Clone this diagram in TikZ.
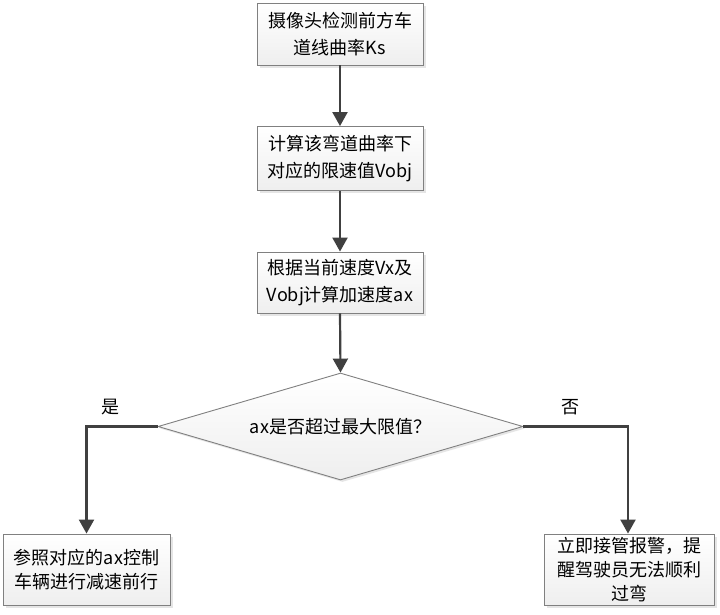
\documentclass[tikz,border=0pt]{standalone}
\usepackage{fontspec}
\setmainfont{Noto Sans CJK SC}
\usetikzlibrary{shapes.geometric,arrows.meta,shadows}
\definecolor{lineC}{HTML}{404040}
\definecolor{edgeC}{HTML}{808080}
\begin{document}
\begin{tikzpicture}[x=1pt,y=-1pt,
  box/.style={draw=edgeC, line width=0.9pt, top color=white, bottom color=gray!13,
    drop shadow={shadow xshift=2.5pt,shadow yshift=-2.5pt,fill=gray!40,opacity=0.5},
    inner sep=0pt, align=center, font=\fontsize{18}{26.5}\selectfont},
  decision/.style={diamond, aspect=3.41, draw=edgeC, line width=0.9pt, top color=white, bottom color=gray!13,
    drop shadow={shadow xshift=2pt,shadow yshift=-2pt,fill=gray!40,opacity=0.5},
    inner sep=0pt, align=center, font=\fontsize{18}{24}\selectfont},
  txt/.style={inner sep=0pt, align=center, font=\fontsize{18}{24}\selectfont},
  conn/.style={draw=lineC, line width=2.2pt, -{Triangle[length=14pt,width=15pt]}}
]
\useasboundingbox (0,0) rectangle (720,614);
\fill[white] (0,0) rectangle (720,614);

\node[box, minimum width=166pt, minimum height=62pt] (b1) at (340,34) {摄像头检测前方车\\道线曲率Ks};
\node[box, minimum width=166pt, minimum height=64pt] (b2) at (340,158.5) {计算该弯道曲率下\\对应的限速值Vobj};
\node[box, minimum width=166pt, minimum height=61pt] (b3) at (340,282.5) {根据当前速度Vx及\\Vobj计算加速度ax};
\node[decision, minimum width=365pt, minimum height=107pt] (d) at (340.5,426.5) {ax是否超过最大限值？};
\node[box, minimum width=167pt, minimum height=71pt, font=\fontsize{18}{24}\selectfont] (l) at (86.5,569.5) {参照对应的ax控制\\车辆进行减速前行};
\node[box, minimum width=170pt, minimum height=71pt] (r) at (629.5,569.5) {};
\node[txt] (rt) at (629.5,570) {立即接管报警，提\\醒驾驶员无法顺利\\过弯};

\node[txt] (yes) at (110,407) {是};
\node[txt] (no) at (570,407) {否};

\draw[conn] (b1.south) -- (b2.north);
\draw[conn] (b2.south) -- (b3.north);
\draw[conn] (b3.south) -- (d.north);
\draw[conn] (d.west) -| (l.north);
\draw[conn] (d.east) -| ([xshift=-1.5pt]r.north);
\end{tikzpicture}
\end{document}
